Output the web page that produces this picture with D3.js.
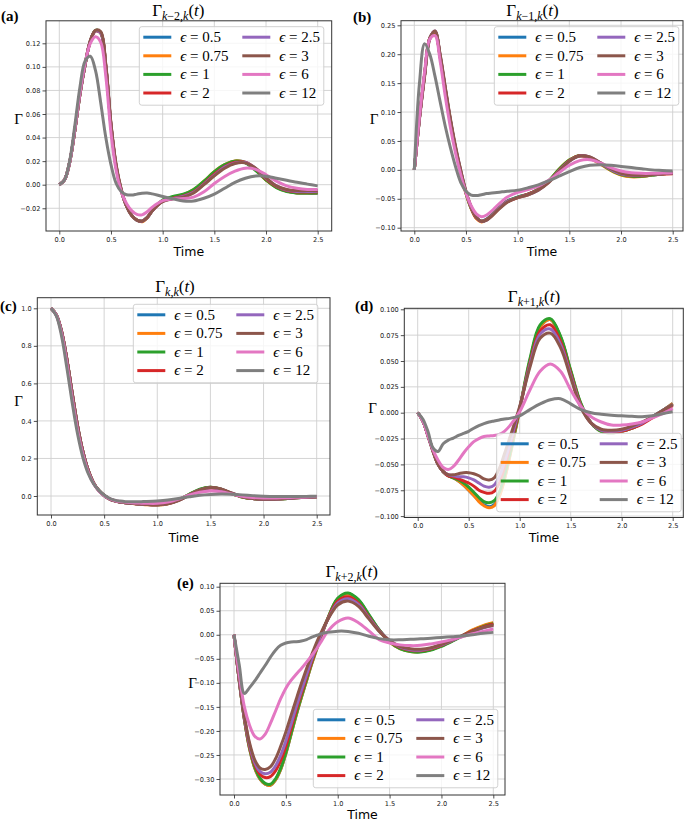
<!DOCTYPE html>
<html><head><meta charset="utf-8">
<script src="https://cdn.jsdelivr.net/npm/d3@7"></script>
<style>body{margin:0;background:#fff}</style>
</head><body><svg id="c" width="685" height="820"></svg>
<script>
// ---------- data ----------
const T = [0,0.05,0.1,0.15,0.2,0.25,0.3,0.35,0.4,0.45,0.5,0.55,0.6,0.65,0.7,0.75,0.8,0.85,0.9,1.0,1.1,1.2,1.3,1.4,1.5,1.6,1.7,1.8,1.9,2.0,2.1,2.2,2.3,2.4,2.5];
const EPS = ["0.5","0.75","1","2","2.5","3","6","12"];
const COLORS = ["#1f77b4","#ff7f0e","#2ca02c","#d62728","#9467bd","#8c564b","#e377c2","#7f7f7f"];
const X_TICKS = [0,0.5,1,1.5,2,2.5];
const A_YTICKS = [-0.02,0,0.02,0.04,0.06,0.08,0.10,0.12];
const B_YTICKS = [-0.10,-0.05,0,0.05,0.10,0.15,0.20,0.25];
const C_YTICKS = [0,0.2,0.4,0.6,0.8,1.0];
const D_YTICKS = [-0.100,-0.075,-0.050,-0.025,0,0.025,0.050,0.075,0.100];
const E_YTICKS = [-0.30,-0.25,-0.20,-0.15,-0.10,-0.05,0,0.05,0.10];

const A05 = [0,0.004,0.019,0.046,0.077,0.102,0.122,0.1305,0.129,0.100,0.050,0.015,-0.005,-0.018,-0.026,-0.030,-0.031,-0.028,-0.022,-0.0135,-0.011,-0.009,-0.005,0.002,0.010,0.0165,0.020,0.019,0.013,0.0045,-0.002,-0.0055,-0.007,-0.0073,-0.0075];
const A075 = [0,0.004,0.019,0.046,0.077,0.102,0.122,0.1305,0.129,0.100,0.050,0.015,-0.005,-0.018,-0.026,-0.030,-0.0315,-0.028,-0.022,-0.0135,-0.0105,-0.0085,-0.004,0.003,0.011,0.017,0.0202,0.0188,0.0125,0.004,-0.002,-0.0055,-0.007,-0.007,-0.007];
const A1 = [0,0.004,0.019,0.046,0.077,0.102,0.122,0.131,0.129,0.100,0.050,0.015,-0.005,-0.018,-0.026,-0.030,-0.031,-0.028,-0.022,-0.013,-0.010,-0.008,-0.004,0.003,0.011,0.017,0.020,0.0185,0.012,0.004,-0.0025,-0.0058,-0.007,-0.007,-0.0068];
const A2 = [0,0.004,0.019,0.046,0.077,0.102,0.122,0.1305,0.129,0.101,0.051,0.016,-0.005,-0.018,-0.026,-0.030,-0.031,-0.028,-0.022,-0.014,-0.0115,-0.0095,-0.006,0.001,0.009,0.0155,0.019,0.019,0.0135,0.005,-0.0015,-0.005,-0.0062,-0.0062,-0.006];
const A25 = [0,0.004,0.019,0.046,0.077,0.102,0.122,0.1305,0.129,0.101,0.051,0.016,-0.005,-0.018,-0.026,-0.030,-0.031,-0.028,-0.022,-0.014,-0.0118,-0.010,-0.0065,0.0005,0.008,0.015,0.0185,0.0188,0.0138,0.0055,-0.001,-0.0045,-0.0057,-0.0057,-0.0055];
const A3 = [0,0.004,0.019,0.046,0.077,0.102,0.122,0.131,0.130,0.102,0.052,0.017,-0.004,-0.018,-0.026,-0.030,-0.031,-0.028,-0.022,-0.0145,-0.012,-0.0105,-0.007,0.000,0.0075,0.014,0.018,0.0185,0.014,0.006,-0.001,-0.004,-0.005,-0.005,-0.005];
const A6 = [0,0.004,0.019,0.047,0.078,0.103,0.120,0.1255,0.121,0.092,0.044,0.012,-0.006,-0.016,-0.022,-0.0252,-0.0256,-0.023,-0.019,-0.0135,-0.012,-0.0118,-0.0105,-0.006,0.001,0.007,0.0115,0.014,0.013,0.0085,0.003,-0.001,-0.003,-0.004,-0.004];
const A12 = [0,0.004,0.020,0.050,0.083,0.105,0.109,0.097,0.070,0.040,0.017,0.001,-0.006,-0.0085,-0.0088,-0.008,-0.0072,-0.007,-0.0078,-0.010,-0.012,-0.0138,-0.0138,-0.0115,-0.008,-0.003,0.002,0.0055,0.0074,0.0072,0.0055,0.0037,0.002,0.0005,-0.001];

const B05 = [0,0.090,0.165,0.228,0.238,0.195,0.138,0.083,0.035,-0.005,-0.040,-0.066,-0.083,-0.089,-0.085,-0.078,-0.069,-0.061,-0.054,-0.047,-0.042,-0.034,-0.020,0.000,0.016,0.0245,0.021,0.011,0.000,-0.008,-0.0115,-0.011,-0.009,-0.007,-0.006];
const B075 = [0,0.090,0.165,0.228,0.238,0.195,0.138,0.083,0.035,-0.005,-0.041,-0.067,-0.084,-0.090,-0.086,-0.079,-0.070,-0.062,-0.055,-0.048,-0.043,-0.034,-0.020,0.001,0.017,0.0245,0.020,0.010,-0.001,-0.009,-0.012,-0.0115,-0.009,-0.007,-0.006];
const B1 = [0,0.090,0.165,0.228,0.239,0.196,0.139,0.084,0.036,-0.004,-0.040,-0.066,-0.083,-0.089,-0.086,-0.078,-0.069,-0.061,-0.054,-0.047,-0.042,-0.033,-0.019,0.001,0.017,0.025,0.021,0.011,0.000,-0.008,-0.011,-0.011,-0.009,-0.007,-0.006];
const B2 = [0,0.090,0.165,0.228,0.239,0.197,0.140,0.085,0.037,-0.003,-0.039,-0.065,-0.083,-0.089,-0.086,-0.079,-0.070,-0.062,-0.055,-0.048,-0.042,-0.034,-0.021,-0.001,0.016,0.0245,0.0215,0.012,0.001,-0.007,-0.010,-0.010,-0.008,-0.007,-0.0065];
const B25 = [0,0.089,0.164,0.227,0.240,0.198,0.141,0.086,0.038,-0.002,-0.038,-0.065,-0.082,-0.089,-0.087,-0.079,-0.070,-0.062,-0.055,-0.048,-0.043,-0.035,-0.021,-0.002,0.015,0.024,0.022,0.012,0.001,-0.007,-0.0095,-0.0095,-0.008,-0.0065,-0.0055];
const B3 = [0,0.088,0.162,0.226,0.240,0.200,0.143,0.088,0.040,-0.001,-0.037,-0.064,-0.082,-0.089,-0.087,-0.080,-0.071,-0.063,-0.056,-0.048,-0.043,-0.035,-0.022,-0.003,0.015,0.024,0.0225,0.0125,0.002,-0.006,-0.009,-0.009,-0.008,-0.0065,-0.0055];
const B6 = [0,0.092,0.170,0.226,0.232,0.188,0.127,0.073,0.028,-0.009,-0.040,-0.062,-0.076,-0.081,-0.078,-0.071,-0.062,-0.054,-0.047,-0.039,-0.034,-0.028,-0.018,-0.005,0.008,0.016,0.0175,0.012,0.004,-0.002,-0.005,-0.006,-0.006,-0.0055,-0.005];
const B12 = [0,0.150,0.218,0.200,0.162,0.118,0.075,0.038,0.005,-0.022,-0.037,-0.0435,-0.0445,-0.043,-0.041,-0.040,-0.039,-0.038,-0.037,-0.035,-0.031,-0.026,-0.019,-0.011,-0.003,0.004,0.008,0.009,0.008,0.006,0.004,0.002,0.000,-0.001,-0.002];

const C05 = [1.0,0.965,0.875,0.725,0.545,0.372,0.236,0.137,0.070,0.029,0.003,-0.015,-0.026,-0.032,-0.036,-0.039,-0.041,-0.043,-0.045,-0.047,-0.040,-0.022,0.008,0.034,0.046,0.036,0.013,-0.005,-0.014,-0.018,-0.017,-0.014,-0.010,-0.007,-0.004];
const C075 = [1.0,0.965,0.875,0.725,0.545,0.372,0.236,0.137,0.070,0.029,0.003,-0.015,-0.026,-0.032,-0.036,-0.039,-0.042,-0.044,-0.046,-0.048,-0.041,-0.022,0.008,0.034,0.046,0.036,0.013,-0.005,-0.014,-0.018,-0.017,-0.014,-0.010,-0.007,-0.004];
const C1 = [1.0,0.965,0.875,0.725,0.545,0.372,0.236,0.137,0.070,0.029,0.003,-0.015,-0.026,-0.032,-0.036,-0.039,-0.041,-0.043,-0.045,-0.047,-0.040,-0.021,0.009,0.036,0.047,0.036,0.013,-0.005,-0.014,-0.018,-0.017,-0.014,-0.010,-0.007,-0.004];
const C2 = [1.0,0.965,0.875,0.725,0.545,0.372,0.236,0.137,0.070,0.029,0.003,-0.015,-0.026,-0.032,-0.036,-0.039,-0.041,-0.043,-0.045,-0.046,-0.040,-0.022,0.006,0.031,0.043,0.035,0.014,-0.004,-0.013,-0.017,-0.016,-0.013,-0.010,-0.007,-0.004];
const C25 = [1.0,0.965,0.875,0.725,0.545,0.372,0.236,0.137,0.070,0.029,0.003,-0.015,-0.026,-0.032,-0.036,-0.039,-0.041,-0.043,-0.045,-0.046,-0.040,-0.023,0.005,0.031,0.044,0.036,0.015,-0.003,-0.013,-0.017,-0.016,-0.013,-0.010,-0.007,-0.004];
const C3 = [1.0,0.966,0.877,0.728,0.548,0.375,0.238,0.138,0.071,0.030,0.004,-0.015,-0.026,-0.032,-0.036,-0.039,-0.041,-0.043,-0.045,-0.046,-0.041,-0.024,0.004,0.032,0.045,0.038,0.016,-0.003,-0.013,-0.017,-0.016,-0.013,-0.009,-0.006,-0.004];
const C6 = [1.0,0.963,0.865,0.705,0.520,0.352,0.222,0.128,0.066,0.027,0.002,-0.014,-0.024,-0.030,-0.033,-0.035,-0.037,-0.038,-0.039,-0.039,-0.032,-0.016,0.005,0.020,0.027,0.023,0.011,-0.001,-0.008,-0.011,-0.011,-0.009,-0.007,-0.005,-0.003];
const C12 = [1.0,0.960,0.850,0.680,0.495,0.330,0.205,0.120,0.065,0.030,0.005,-0.012,-0.022,-0.027,-0.030,-0.031,-0.031,-0.030,-0.029,-0.026,-0.021,-0.013,-0.004,0.004,0.008,0.010,0.009,0.006,0.002,-0.001,-0.003,-0.003,-0.003,-0.002,-0.001];

const D05 = [0,-0.008,-0.022,-0.037,-0.050,-0.057,-0.061,-0.063,-0.066,-0.070,-0.075,-0.080,-0.085,-0.089,-0.091,-0.089,-0.080,-0.064,-0.043,0.003,0.050,0.083,0.090,0.073,0.040,0.008,-0.010,-0.018,-0.0195,-0.018,-0.015,-0.010,-0.004,0.002,0.009];
const D075 = [0,-0.008,-0.022,-0.037,-0.050,-0.057,-0.061,-0.063,-0.066,-0.070,-0.075,-0.080,-0.086,-0.090,-0.092,-0.090,-0.081,-0.065,-0.044,0.003,0.050,0.083,0.090,0.073,0.040,0.008,-0.010,-0.018,-0.0195,-0.018,-0.015,-0.010,-0.004,0.002,0.009];
const D1 = [0,-0.008,-0.022,-0.037,-0.050,-0.057,-0.061,-0.063,-0.065,-0.068,-0.072,-0.077,-0.082,-0.086,-0.087,-0.085,-0.077,-0.061,-0.041,0.004,0.052,0.085,0.091,0.074,0.041,0.009,-0.010,-0.018,-0.0195,-0.018,-0.015,-0.010,-0.004,0.002,0.008];
const D2 = [0,-0.008,-0.022,-0.037,-0.050,-0.057,-0.061,-0.062,-0.064,-0.066,-0.068,-0.071,-0.075,-0.077,-0.078,-0.076,-0.068,-0.053,-0.035,0.004,0.048,0.079,0.085,0.069,0.038,0.007,-0.010,-0.017,-0.019,-0.018,-0.015,-0.011,-0.005,0.001,0.007];
const D25 = [0,-0.008,-0.022,-0.037,-0.050,-0.057,-0.060,-0.061,-0.062,-0.062,-0.063,-0.065,-0.068,-0.071,-0.072,-0.070,-0.062,-0.048,-0.031,0.005,0.046,0.076,0.081,0.066,0.036,0.006,-0.010,-0.017,-0.018,-0.017,-0.014,-0.010,-0.004,0.002,0.008];
const D3 = [0,-0.008,-0.022,-0.037,-0.050,-0.057,-0.060,-0.060,-0.059,-0.058,-0.058,-0.059,-0.061,-0.064,-0.065,-0.063,-0.054,-0.040,-0.025,0.006,0.044,0.072,0.077,0.063,0.034,0.005,-0.010,-0.016,-0.017,-0.016,-0.013,-0.009,-0.004,0.002,0.008];
const D6 = [0,-0.008,-0.022,-0.036,-0.046,-0.053,-0.055,-0.052,-0.046,-0.039,-0.033,-0.028,-0.025,-0.023,-0.0225,-0.022,-0.021,-0.018,-0.013,0.001,0.022,0.040,0.047,0.040,0.022,0.006,-0.004,-0.009,-0.012,-0.012,-0.011,-0.009,-0.005,-0.001,0.004];
const D12 = [0,-0.006,-0.018,-0.034,-0.0375,-0.030,-0.0265,-0.0245,-0.022,-0.020,-0.018,-0.015,-0.0125,-0.0105,-0.009,-0.008,-0.007,-0.006,-0.0055,-0.003,0.003,0.0085,0.0125,0.0135,0.0085,0.003,0.000,-0.0015,-0.0025,-0.003,-0.0035,-0.0038,-0.003,-0.001,0.001];

const E05 = [0,-0.095,-0.176,-0.237,-0.277,-0.300,-0.311,-0.313,-0.302,-0.280,-0.247,-0.207,-0.167,-0.130,-0.095,-0.060,-0.028,0.003,0.031,0.075,0.086,0.072,0.041,0.010,-0.014,-0.028,-0.034,-0.035,-0.031,-0.023,-0.013,-0.002,0.009,0.018,0.024];
const E075 = [0,-0.095,-0.176,-0.237,-0.277,-0.300,-0.311,-0.313,-0.302,-0.280,-0.247,-0.207,-0.167,-0.130,-0.095,-0.060,-0.028,0.003,0.031,0.075,0.085,0.071,0.040,0.009,-0.015,-0.029,-0.035,-0.035,-0.031,-0.023,-0.013,-0.002,0.010,0.019,0.025];
const E1 = [0,-0.095,-0.175,-0.235,-0.275,-0.298,-0.309,-0.311,-0.300,-0.278,-0.245,-0.205,-0.165,-0.128,-0.093,-0.058,-0.026,0.004,0.032,0.076,0.087,0.073,0.042,0.010,-0.014,-0.029,-0.035,-0.036,-0.032,-0.024,-0.014,-0.003,0.008,0.017,0.023];
const E2 = [0,-0.094,-0.173,-0.232,-0.270,-0.290,-0.297,-0.295,-0.283,-0.262,-0.232,-0.195,-0.157,-0.122,-0.088,-0.055,-0.024,0.005,0.031,0.070,0.079,0.066,0.037,0.009,-0.013,-0.026,-0.032,-0.033,-0.029,-0.022,-0.012,-0.002,0.008,0.016,0.022];
const E25 = [0,-0.093,-0.171,-0.229,-0.266,-0.284,-0.289,-0.286,-0.273,-0.251,-0.221,-0.186,-0.150,-0.116,-0.083,-0.051,-0.021,0.006,0.030,0.066,0.075,0.063,0.035,0.008,-0.012,-0.025,-0.031,-0.032,-0.028,-0.021,-0.012,-0.003,0.006,0.014,0.019];
const E3 = [0,-0.092,-0.168,-0.225,-0.260,-0.277,-0.280,-0.275,-0.258,-0.232,-0.202,-0.168,-0.134,-0.101,-0.070,-0.041,-0.014,0.009,0.030,0.062,0.070,0.059,0.033,0.007,-0.012,-0.024,-0.029,-0.030,-0.027,-0.020,-0.011,-0.002,0.007,0.015,0.020];
const E6 = [0,-0.082,-0.150,-0.188,-0.211,-0.217,-0.207,-0.185,-0.159,-0.133,-0.111,-0.095,-0.082,-0.070,-0.057,-0.043,-0.028,-0.011,0.006,0.027,0.035,0.025,0.008,-0.010,-0.017,-0.021,-0.0225,-0.022,-0.019,-0.015,-0.010,-0.004,0.002,0.007,0.012];
const E12 = [0,-0.062,-0.122,-0.110,-0.096,-0.080,-0.064,-0.047,-0.032,-0.022,-0.017,-0.015,-0.0145,-0.013,-0.010,-0.005,-0.001,0.003,0.005,0.0075,0.007,0.003,-0.003,-0.008,-0.0105,-0.0105,-0.0095,-0.0085,-0.007,-0.0055,-0.004,-0.0025,0.000,0.003,0.005];

// ---------- layout ----------
const SERIF = "'Liberation Serif','DejaVu Serif',serif";
const SANS = "'DejaVu Sans',sans-serif";

const panels = [
  {tag:"(a)", sub:[["k",1],["−2,",0],["k",1]], series:[A05,A075,A1,A2,A25,A3,A6,A12], yTicks:A_YTICKS, yFmt:".2f",
   box:[46,20.8,331.7,231], xp:[59.3,317.7], yv:[0,0.12], yp:[184.7,43.3], leg:[139.3,26.7], title:[178.3,15.5], tagPos:[1,21], ylab:[18.5,124], xlab:[188.8,256]},
  {tag:"(b)", sub:[["k",1],["−1,",0],["k",1]], series:[B05,B075,B1,B2,B25,B3,B6,B12], yTicks:B_YTICKS, yFmt:".2f",
   box:[401,20.7,683,231], xp:[414.3,672.7], yv:[-0.10,0.25], yp:[227.7,25.3], leg:[494.3,26.7], title:[532.5,15.5], tagPos:[353,22], ylab:[374,124], xlab:[542,256]},
  {tag:"(c)", sub:[["k",1],[",",0],["k",1]], series:[C05,C075,C1,C2,C25,C3,C6,C12], yTicks:C_YTICKS, yFmt:".1f",
   box:[37.3,297.7,330,515], xp:[51,316.7], yv:[0,1], yp:[496,308.3], leg:[133.3,304.3], title:[175,292], tagPos:[0,311], ylab:[18.5,405.5], xlab:[183.7,542]},
  {tag:"(d)", sub:[["k",1],["+1,",0],["k",1]], series:[D05,D075,D1,D2,D25,D3,D6,D12], yTicks:D_YTICKS, yFmt:".3f",
   box:[404.3,308.3,683.3,517.5], xp:[417.7,672.7], yv:[0,0.1], yp:[412.7,309.3], leg:[496.7,433.3], title:[534,302], tagPos:[355,311], ylab:[372.5,412.5], xlab:[544,542]},
  {tag:"(e)", sub:[["k",1],["+2,",0],["k",1]], series:[E05,E075,E1,E2,E25,E3,E6,E12], yTicks:E_YTICKS, yFmt:".2f",
   box:[220,583.3,505,795], xp:[234,493.3], yv:[-0.30,0.10], yp:[779,586.7], leg:[313.3,709.3], title:[351.7,577], tagPos:[177,588], ylab:[192.5,687.5], xlab:[362.5,819]}
];

const svg = d3.select("#c");
svg.append("rect").attr("width",685).attr("height",820).attr("fill","#fff");

panels.forEach((p, pi) => {
  const [L, Tp, R, B] = p.box;
  const x = d3.scaleLinear().domain([0, 2.5]).range(p.xp);
  const y = d3.scaleLinear().domain(p.yv).range(p.yp);
  const g = svg.append("g");

  const clipId = "clip" + pi;
  g.append("clipPath").attr("id", clipId).append("rect")
    .attr("x", L).attr("y", Tp).attr("width", R - L).attr("height", B - Tp);

  // grid
  const grid = g.append("g").attr("stroke", "#cfcfcf").attr("stroke-width", 0.9);
  X_TICKS.forEach(v => grid.append("line").attr("x1", x(v)).attr("x2", x(v)).attr("y1", Tp).attr("y2", B));
  p.yTicks.forEach(v => grid.append("line").attr("x1", L).attr("x2", R).attr("y1", y(v)).attr("y2", y(v)));

  // lines
  const line = d3.line().x((d, i) => x(T[i])).y(d => y(d)).curve(d3.curveCatmullRom.alpha(0.5));
  const lg = g.append("g").attr("clip-path", `url(#${clipId})`);
  p.series.forEach((s, si) => {
    lg.append("path").attr("d", line(s)).attr("fill", "none")
      .attr("stroke", COLORS[si]).attr("stroke-width", 3)
      .attr("stroke-linejoin", "round").attr("stroke-linecap", "butt");
  });

  // axes
  const xa = g.append("g").attr("transform", `translate(0,${B})`)
    .call(d3.axisBottom(x).tickValues(X_TICKS).tickFormat(d3.format(".1f")).tickSize(3.5).tickPadding(2.5));
  const ya = g.append("g").attr("transform", `translate(${L},0)`)
    .call(d3.axisLeft(y).tickValues(p.yTicks).tickFormat(d3.format(p.yFmt)).tickSize(3.5).tickPadding(2));
  [xa, ya].forEach(a => {
    a.select(".domain").remove();
    a.selectAll("text").style("font-family", SANS).style("font-size", "6.6px").attr("fill", "#222");
    a.selectAll("line").attr("stroke", "#222").attr("stroke-width", 0.8);
  });

  // spines
  g.append("rect").attr("x", L).attr("y", Tp).attr("width", R - L).attr("height", B - Tp)
    .attr("fill", "none").attr("stroke", "#333").attr("stroke-width", 1);

  // legend
  const [lx, ly] = p.leg;
  const legG = g.append("g").attr("transform", `translate(${lx},${ly})`);
  legG.append("rect").attr("width", 184.5).attr("height", 78.5).attr("rx", 2.5)
    .attr("fill", "#fff").attr("fill-opacity", 0.8).attr("stroke", "#cccccc").attr("stroke-width", 0.9);
  EPS.forEach((e, i) => {
    const col = Math.floor(i / 4), row = i % 4;
    const cy = 10.5 + row * 18.6;
    const x0 = col === 0 ? 4 : 103;
    legG.append("line").attr("x1", x0).attr("x2", x0 + 28).attr("y1", cy).attr("y2", cy)
      .attr("stroke", COLORS[i]).attr("stroke-width", 3);
    const tx = legG.append("text").attr("x", x0 + 37).attr("y", cy + 4.8)
      .style("font-family", SERIF).style("font-size", "15px").attr("fill", "#000");
    tx.append("tspan").style("font-style", "italic").text("ϵ");
    tx.append("tspan").text(" = " + e);
  });

  // title
  const tt = g.append("text").attr("x", p.title[0]).attr("y", p.title[1]).attr("text-anchor", "middle")
    .style("font-family", SERIF).style("font-size", "17px").attr("fill", "#000");
  tt.append("tspan").text("Γ");
  p.sub.forEach((s, i) => {
    const ts = tt.append("tspan").style("font-size", "12px").text(s[0]);
    if (s[1]) ts.style("font-style", "italic");
    if (i === 0) ts.attr("dy", 4);
  });
  tt.append("tspan").attr("dy", -4).text("(");
  tt.append("tspan").style("font-style", "italic").text("t");
  tt.append("tspan").text(")");

  // panel tag
  g.append("text").attr("x", p.tagPos[0]).attr("y", p.tagPos[1])
    .style("font-family", SERIF).style("font-size", "15px").style("font-weight", "bold").attr("fill", "#000").text(p.tag);

  // axis labels
  g.append("text").attr("x", p.ylab[0]).attr("y", p.ylab[1]).attr("text-anchor", "middle")
    .style("font-family", SERIF).style("font-size", "15px").attr("fill", "#000").text("Γ");
  g.append("text").attr("x", p.xlab[0]).attr("y", p.xlab[1]).attr("text-anchor", "middle")
    .style("font-family", SANS).style("font-size", "12.5px").attr("fill", "#000").text("Time");
});
</script>
</body></html>
